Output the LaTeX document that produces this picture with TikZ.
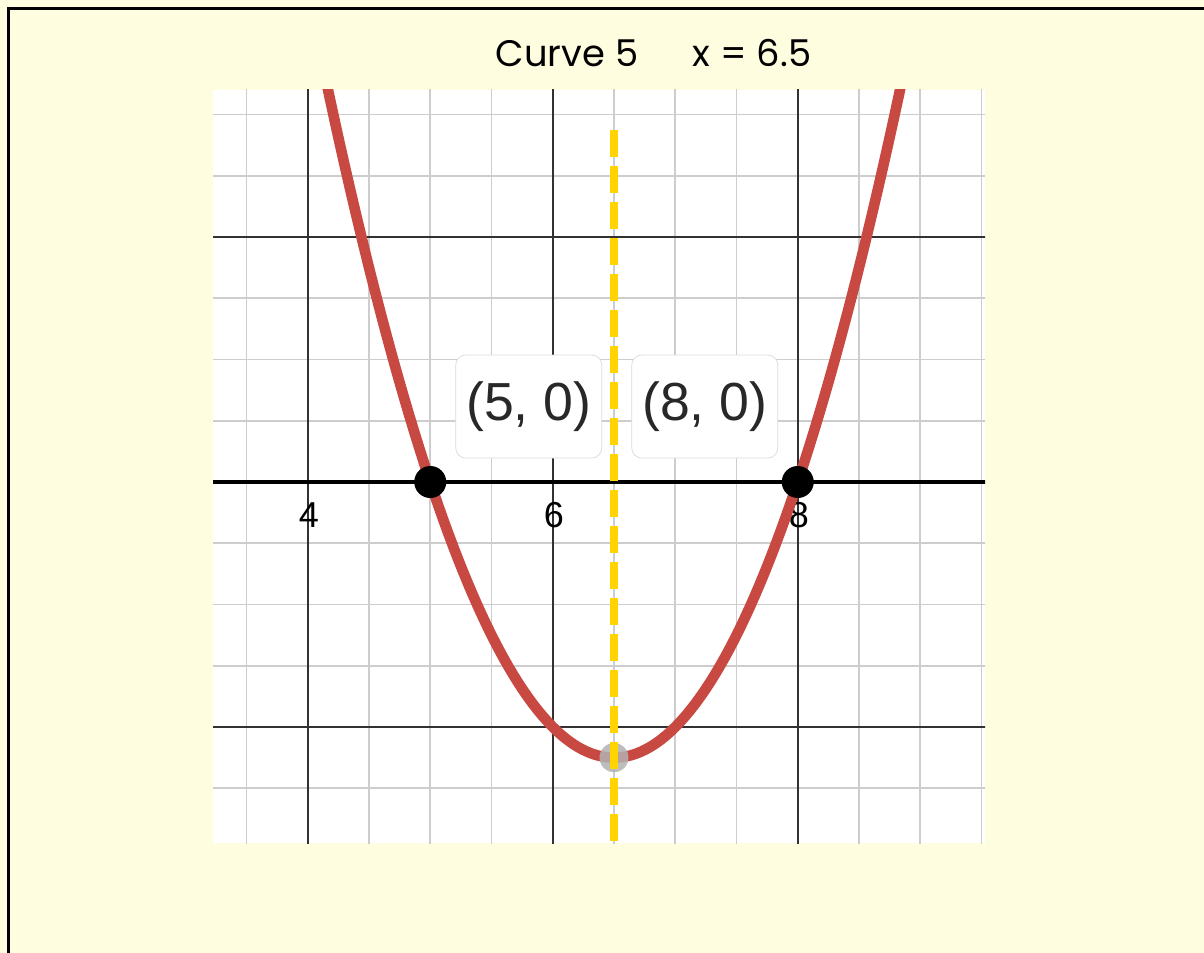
\documentclass[tikz,border=0pt]{standalone}
\usepackage{fontspec}
\setmainfont{Liberation Sans}
\newfontfamily\titlefont{Poppins}
\usetikzlibrary{positioning}
\definecolor{bgyellow}{RGB}{255,253,224}
\definecolor{curvered}{RGB}{200,72,66}
\definecolor{symgold}{RGB}{255,212,0}
\definecolor{minorgrid}{RGB}{205,205,205}
\definecolor{majorgrid}{RGB}{50,50,50}
\definecolor{lbltext}{RGB}{40,40,40}

\begin{document}
\begin{tikzpicture}[>=latex]
\tikzstyle{coordlbl}=[draw=black!14, fill=white, rounded corners=0.2cm,
minimum width=2.92cm, minimum height=2.06cm, inner sep=0pt,
text=lbltext, font=\fontsize{30.5}{34}\selectfont]
\tikzstyle{root}=[circle, fill=black, minimum size=0.64cm, inner sep=0pt]
\tikzstyle{tick}=[font=\fontsize{20.5}{24}\selectfont, inner sep=0pt]

\useasboundingbox (0,0) rectangle (24.08,-19.06);

% page
\begin{scope}
\clip (0,0) rectangle (24.08,-19.06);
\fill[bgyellow] (0,0) rectangle (24.08,-19.06);
\draw[line width=1.7pt] (0.17,-0.17) rectangle (25,-20);
\end{scope}

% title
\node[font=\titlefont\fontsize{21}{25}\selectfont] (title) at (11.34,-1.06) {Curve 5};
\node[font=\titlefont\fontsize{21}{25}\selectfont] (xval) at (15.04,-1.06) {x = 6.5};

% graph, 1 unit = 122.5px
\begin{scope}[shift={(-3.645,-9.64)}, x=2.45cm, y=2.45cm]
\fill[white] (3.227,-2.947) rectangle (9.53,3.2);
\begin{scope}
\clip (3.227,-2.947) rectangle (9.53,3.2);

% grid
\foreach \gx in {3.5,4.5,5,5.5,6.5,7,7.5,8.5,9,9.5}
  \draw[minorgrid, line width=1.1pt] (\gx,-3) -- (\gx,3.3);
\foreach \gy in {-2.5,-1.5,-1,-0.5,0.5,1,1.5,2.5,3}
  \draw[minorgrid, line width=1.1pt] (3.2,\gy) -- (9.6,\gy);
\foreach \gx in {4,6,8}
  \draw[majorgrid, line width=1.3pt] (\gx,-3) -- (\gx,3.3);
\foreach \gy in {-2,2}
  \draw[majorgrid, line width=1.3pt] (3.2,\gy) -- (9.6,\gy);
\draw[black, line width=2pt] (3.2,0) -- (9.6,0);

% tick labels
\node[tick] (t4) at (4.01,-0.27) {4};
\node[tick] (t6) at (6.01,-0.27) {6};
\node[tick] (t8) at (8.01,-0.27) {8};

% parabola
\draw[curvered, line width=6pt, line cap=round] plot[domain=4.1:8.9, samples=120] (\x,{(\x-5)*(\x-8)});
\end{scope}

% vertex and axis of symmetry
\node[circle, fill=black!30, opacity=0.85, minimum size=0.58cm, inner sep=0pt] (vertex) at (6.5,-2.25) {};
\coordinate (symtop) at (6.5,2.873);
\coordinate (symbot) at (6.5,-2.947);
\draw[symgold, line width=4.5pt, dash pattern=on 0.54cm off 0.18cm] (symtop) -- (symbot);

% roots
\node[root] (rootA) at (5,0) {};
\node[root] (rootB) at (8,0) {};

% labels
\node[coordlbl] (lblA) at (5.804,0.616) {(5, 0)};
\node[coordlbl] (lblB) at (7.241,0.616) {(8, 0)};
\end{scope}

\end{tikzpicture}
\end{document}
